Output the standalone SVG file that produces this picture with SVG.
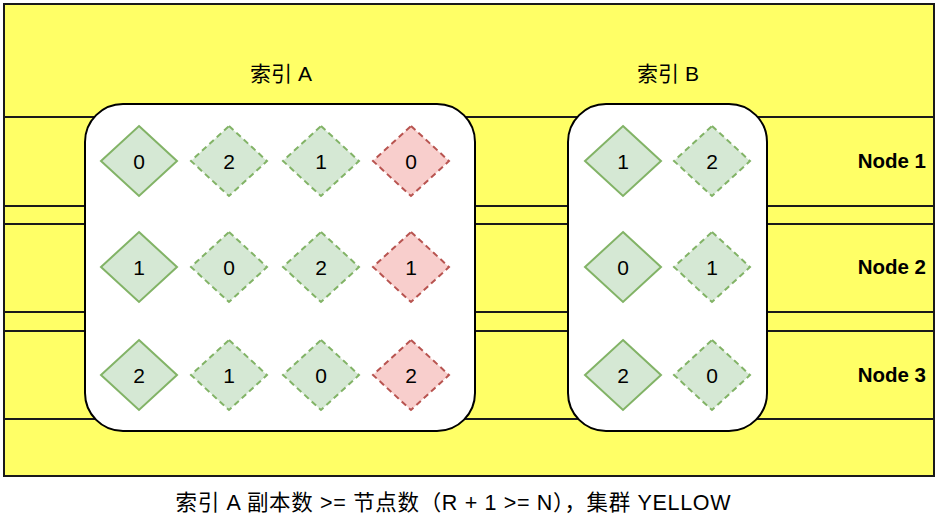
<svg xmlns="http://www.w3.org/2000/svg" width="939" height="526" viewBox="0 0 939 526">
<style>
.y{fill:#ffff66;stroke:#1a1a1a;stroke-width:2}
.box{fill:#ffffff;stroke:#000;stroke-width:2}
.p{fill:#d5e8d4;stroke:#82b366;stroke-width:2}
.r{fill:#d5e8d4;stroke:#82b366;stroke-width:2;stroke-dasharray:6 4}
.x{fill:#f8cecc;stroke:#b85450;stroke-width:2;stroke-dasharray:6 4}
text{font-family:"Liberation Sans","Noto Sans CJK SC",sans-serif;fill:#000}
.n{font-size:21px;text-anchor:middle;dominant-baseline:central}
.t{font-size:21px;text-anchor:middle}
.b{font-size:20.5px;font-weight:bold;text-anchor:end}
.c{font-size:21.5px;text-anchor:middle}
</style>
<defs>
<polygon id="d" points="0,-35 38,0 0,35 -38,0"/>
</defs>
<g id="cluster"><rect class="y" x="4" y="4" width="930" height="472"/></g>
<g id="node1"><rect class="y" x="4" y="117" width="930" height="89"/><text class="b" x="926" y="168">Node 1</text></g>
<g id="node2"><rect class="y" x="4" y="224" width="930" height="88"/><text class="b" x="926" y="274">Node 2</text></g>
<g id="node3"><rect class="y" x="4" y="331" width="930" height="88"/><text class="b" x="926" y="382">Node 3</text></g>
<g id="indexA"><rect class="box" x="85" y="104" width="390" height="327" rx="38" ry="38"/><text class="t" x="281" y="81">索引 A</text></g>
<g id="indexB"><rect class="box" x="568" y="104" width="199" height="327" rx="38" ry="38"/><text class="t" x="668" y="81">索引 B</text></g>
<g id="shards">
<g id="a11"><use href="#d" class="p" x="139" y="161"/><text class="n" x="139" y="161">0</text></g>
<g id="a12"><use href="#d" class="r" x="229" y="161"/><text class="n" x="229" y="161">2</text></g>
<g id="a13"><use href="#d" class="r" x="321" y="161"/><text class="n" x="321" y="161">1</text></g>
<g id="a14"><use href="#d" class="x" x="411" y="161"/><text class="n" x="411" y="161">0</text></g>
<g id="a21"><use href="#d" class="p" x="139" y="267"/><text class="n" x="139" y="267">1</text></g>
<g id="a22"><use href="#d" class="r" x="229" y="267"/><text class="n" x="229" y="267">0</text></g>
<g id="a23"><use href="#d" class="r" x="321" y="267"/><text class="n" x="321" y="267">2</text></g>
<g id="a24"><use href="#d" class="x" x="411" y="267"/><text class="n" x="411" y="267">1</text></g>
<g id="a31"><use href="#d" class="p" x="139" y="375"/><text class="n" x="139" y="375">2</text></g>
<g id="a32"><use href="#d" class="r" x="229" y="375"/><text class="n" x="229" y="375">1</text></g>
<g id="a33"><use href="#d" class="r" x="321" y="375"/><text class="n" x="321" y="375">0</text></g>
<g id="a34"><use href="#d" class="x" x="411" y="375"/><text class="n" x="411" y="375">2</text></g>
<g id="b11"><use href="#d" class="p" x="623" y="161"/><text class="n" x="623" y="161">1</text></g>
<g id="b12"><use href="#d" class="r" x="712" y="161"/><text class="n" x="712" y="161">2</text></g>
<g id="b21"><use href="#d" class="p" x="623" y="267"/><text class="n" x="623" y="267">0</text></g>
<g id="b22"><use href="#d" class="r" x="712" y="267"/><text class="n" x="712" y="267">1</text></g>
<g id="b31"><use href="#d" class="p" x="623" y="375"/><text class="n" x="623" y="375">2</text></g>
<g id="b32"><use href="#d" class="r" x="712" y="375"/><text class="n" x="712" y="375">0</text></g>
</g>
<g id="connectors"></g>
<g id="caption"><text class="c" x="453" y="510" textLength="555" lengthAdjust="spacing">索引 A 副本数 &gt;= 节点数（R + 1 &gt;= N），集群 YELLOW</text></g>
</svg>
